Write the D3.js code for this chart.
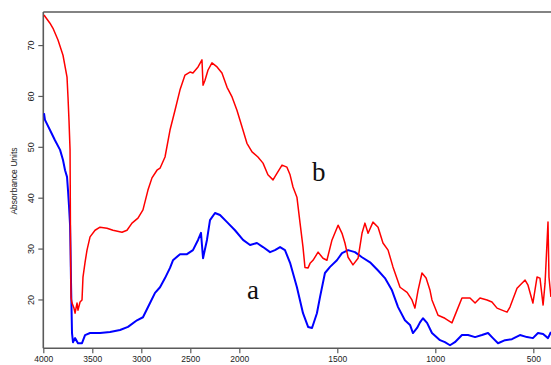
<!DOCTYPE html>
<html><head><meta charset="utf-8">
<script src="https://cdn.jsdelivr.net/npm/d3@7"></script>
<style>body{margin:0;background:#fff;} svg{display:block;}</style>
</head><body>
<script>
// wavenumber (cm-1) and absorbance for spectrum b (red)
const redWn = [3993,3932,3901,3850,3799,3758,3748,3738,3727,3722,3717,3707,3687,3676,3656,3646,3625,3605,3595,3574,3554,3523,3472,3421,3350,3289,3197,3146,3095,3034,2983,2932,2891,2840,2809,2758,2707,2656,2605,2554,2503,2473,2421,2381,2370,2350,2319,2279,2227,2177,2125,2074,2024,1986,1961,1935,1905,1879,1854,1828,1808,1782,1757,1741,1726,1706,1690,1675,1665,1649,1639,1624,1598,1573,1553,1527,1496,1476,1461,1445,1420,1394,1374,1359,1343,1318,1292,1267,1241,1216,1180,1144,1119,1104,1088,1068,1047,1027,1017,986,951,915,889,864,823,797,772,736,711,685,660,634,619,583,558,542,527,502,481,466,450,440,425,420,410];
const redAbs = [75.9,74.3,73.3,71.0,68.0,63.7,59.8,55.3,49.4,29.7,20.3,19.3,18.3,17.3,19.3,17.9,19.5,19.9,24.4,27.3,29.7,32.3,33.6,34.2,34.0,33.6,33.2,33.6,35.0,36.0,37.6,41.5,43.9,45.4,45.8,48.0,53.3,57.2,61.2,64.1,64.7,64.5,65.7,67.1,62.1,63.1,65.1,66.5,65.7,64.5,61.7,59.8,57.2,53.9,50.7,49.0,48.0,46.8,44.5,43.5,44.8,46.4,46.0,44.5,42.1,40.1,35.0,30.3,26.3,26.2,27.1,27.7,29.3,28.1,27.7,31.7,34.6,33.0,31.1,28.3,26.8,28.1,33.0,35.0,33.0,35.2,34.2,31.1,29.7,26.4,22.4,21.4,19.9,18.3,21.8,25.2,24.2,21.8,19.9,16.9,16.3,15.4,17.9,20.3,20.3,19.3,20.3,19.9,19.5,18.3,17.9,17.5,18.5,22.2,23.2,23.8,22.8,19.3,24.4,24.2,18.9,23.2,35.2,24.4,20.5];
// wavenumber (cm-1) and absorbance for spectrum a (blue)
const blueWn = [3993,3983,3932,3881,3829,3799,3778,3758,3748,3738,3727,3722,3717,3707,3697,3676,3646,3605,3574,3523,3421,3319,3217,3136,3044,2983,2911,2860,2809,2758,2707,2677,2605,2534,2473,2421,2391,2370,2330,2299,2248,2197,2125,2044,1981,1945,1910,1879,1843,1818,1792,1767,1741,1706,1675,1649,1629,1604,1588,1563,1537,1502,1476,1445,1410,1374,1333,1292,1257,1221,1190,1155,1129,1114,1093,1078,1063,1042,1017,976,951,925,900,864,833,797,762,731,706,680,644,609,568,532,502,476,450,425,410];
const blueAbs = [56.6,55.3,53.3,51.3,49.4,47.4,45.4,44.1,41.5,38.5,34.6,29.7,23.2,13.4,11.6,12.4,11.4,11.4,13.0,13.4,13.4,13.6,14.0,14.6,15.9,16.5,19.3,21.3,22.4,24.2,26.2,27.7,28.9,28.9,29.7,31.7,33.1,28.1,31.7,35.6,37.0,36.6,35.2,33.6,31.7,30.7,31.1,30.3,29.3,29.7,30.3,29.7,27.2,22.4,17.3,14.6,14.4,17.3,20.5,25.2,26.4,27.7,29.1,29.7,29.3,28.3,27.3,25.7,24.2,21.8,18.5,15.9,15.0,13.4,14.4,15.5,16.3,15.4,13.4,12.0,11.6,11.0,11.6,13.0,13.0,12.6,13.0,13.4,12.4,11.4,12.0,12.2,13.0,12.6,12.4,13.4,13.2,12.4,13.6];
const xTicks = [4000,3500,3000,2500,2000,1500,1000,500];
const yTicks = [20,30,40,50,60,70];
const yTitle = "Absorbance Units";
const labels = [{t:"a", wn:1930, v:20.0},{t:"b", wn:1595, v:43.2}];

const W = 551, H = 365;
const mLeft = 43.3, mTop = 12, mBottom = 348.3;
const svg = d3.select("body").append("svg").attr("width", W).attr("height", H);

// Bruker-style x axis: scale doubles below 2000 cm-1
const x = d3.scaleLinear().domain([4000, 2000, 400]).range([mLeft, 239.3, 552.9]);
const y = d3.scaleLinear().domain([10.4, 76.5]).range([mBottom, mTop]);

svg.append("defs").append("clipPath").attr("id","clip")
  .append("rect").attr("x", mLeft).attr("y", mTop).attr("width", W - mLeft).attr("height", mBottom - mTop);

const axisColor = "#5a5a5a";
const font = "'Liberation Sans', Arial, sans-serif";

svg.append("line").attr("x1", mLeft).attr("x2", W).attr("y1", mTop).attr("y2", mTop)
  .attr("stroke", axisColor).attr("stroke-width", 1.6);

const xAxis = svg.append("g").attr("transform", `translate(0,${mBottom})`)
  .call(d3.axisBottom(x).tickValues(xTicks).tickSize(5).tickSizeOuter(0).tickFormat(d3.format("d")));
const yAxis = svg.append("g").attr("transform", `translate(${mLeft},0)`)
  .call(d3.axisLeft(y).tickValues(yTicks).tickSize(5).tickSizeOuter(0));

[xAxis, yAxis].forEach(g => {
  g.select(".domain").attr("stroke", axisColor).attr("stroke-width", 1.6);
  g.selectAll(".tick line").attr("stroke", axisColor).attr("stroke-width", 1.2);
  g.selectAll("text").attr("fill", "#222").style("font-family", font).style("font-size", "8.5px");
});
xAxis.select(".domain").attr("d", `M${mLeft},0H${W}`);
xAxis.selectAll(".tick text").attr("y", 14).attr("dy", null);
yAxis.select(".domain").attr("d", `M0,${mTop}V${mBottom}`);
yAxis.selectAll(".tick text")
  .attr("x", null).attr("dy", null).attr("text-anchor", "middle")
  .style("font-size", "9px")
  .attr("transform", "translate(-9,0) rotate(-90)");

svg.append("text").attr("transform", `translate(17,181) rotate(-90)`)
  .attr("text-anchor", "middle").style("font-family", font).style("font-size", "8.5px")
  .attr("fill", "#222").text(yTitle);

const line = d3.line().x(d => x(d[0])).y(d => y(d[1]));
const plot = svg.append("g").attr("clip-path", "url(#clip)");
plot.append("path").datum(blueWn.map((w,i)=>[w, blueAbs[i]]))
  .attr("d", line).attr("fill","none").attr("stroke","#0000ff").attr("stroke-width",2)
  .attr("stroke-linejoin","round");
plot.append("path").datum(redWn.map((w,i)=>[w, redAbs[i]]))
  .attr("d", line).attr("fill","none").attr("stroke","#ff0000").attr("stroke-width",1.5)
  .attr("stroke-linejoin","round");

svg.selectAll("text.lab").data(labels).enter().append("text").attr("class","lab")
  .attr("x", d => x(d.wn)).attr("y", d => y(d.v)).attr("text-anchor","middle")
  .style("font-family","'Liberation Serif', 'Times New Roman', serif").style("font-size","27px")
  .attr("fill","#111").text(d => d.t);
</script>
</body></html>
